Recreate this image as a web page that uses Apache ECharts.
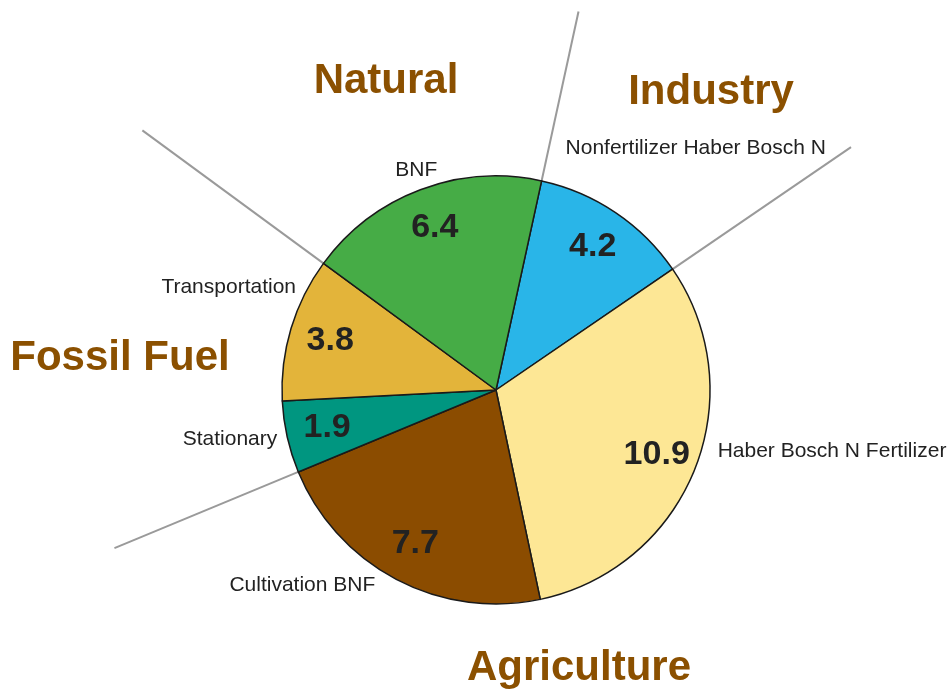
<!DOCTYPE html>
<html>
<head>
<meta charset="utf-8">
<script src="https://cdn.jsdelivr.net/npm/echarts@6/dist/echarts.min.js"></script>
<style>
  html, body { margin: 0; padding: 0; background: #fff; }
  #chart { width: 949px; height: 692px; }
</style>
</head>
<body>
<div id="chart"></div>
<script>
// slices, clockwise from the Natural / Industry boundary
var sources = ['Nonfertilizer Haber Bosch N', 'Haber Bosch N Fertilizer', 'Cultivation BNF', 'Stationary', 'Transportation', 'BNF']
var amounts = [4.2, 10.9, 7.7, 1.9, 3.8, 6.4]
var groups = ['Industry', 'Agriculture', 'Agriculture', 'Fossil Fuel', 'Fossil Fuel', 'Natural']
var groupNames = ['Natural', 'Industry', 'Fossil Fuel', 'Agriculture']
// how far each group divider reaches, in pie radii
var dividerReach = [1.81, 2.01, 1.93, 2.05]

var colors = ['#29b5e8', '#fde795', '#8b4c00', '#009680', '#e3b43a', '#46ac46']
var nameShift = [[-55, -64], [18, -18], [-16, 6], [-5, 2], [10, -41], [22, -20]]
var groupPos = [[386, 81], [711, 92], [120, 358], [579, 668]]

var center = [496, 390]
var R = 214
var startAngle = 77.7
var polarMax = 2.2

var total = amounts.reduce(function (a, b) { return a + b }, 0)

// divider lines where the group changes
var dividers = []
var acc = 0
for (var i = 0; i < amounts.length; i++) {
  var prev = groups[(i - 1 + groups.length) % groups.length]
  if (groups[i] !== prev) dividers.push(acc)
  acc += amounts[i]
}

var pieData = sources.map(function (s, i) {
  return { name: s, value: amounts[i], itemStyle: { color: colors[i] } }
})

var series = [
  {
    type: 'pie',
    center: center,
    radius: [0, R],
    startAngle: startAngle,
    clockwise: true,
    avoidLabelOverlap: false,
    silent: true,
    data: pieData,
    itemStyle: { borderColor: '#1a1a1a', borderWidth: 1.5 },
    label: {
      position: 'outside',
      formatter: '{b}',
      fontFamily: 'Liberation Sans',
      fontSize: 21,
      color: '#222',
      distanceToLabelLine: 5
    },
    labelLine: { show: false, length: 0, length2: 0 },
    labelLayout: function (p) {
      return { dx: nameShift[p.dataIndex][0], dy: nameShift[p.dataIndex][1] }
    }
  },
  {
    type: 'pie',
    center: center,
    radius: [R * 0.59, R],
    startAngle: startAngle,
    clockwise: true,
    silent: true,
    data: amounts.map(function (v, i) { return { name: sources[i], value: v } }),
    itemStyle: { color: 'rgba(0,0,0,0)' },
    label: {
      position: 'inside',
      formatter: '{c}',
      fontFamily: 'Liberation Sans',
      fontWeight: 'bold',
      fontSize: 34,
      color: '#222'
    },
    labelLine: { show: false }
  }
]

dividers.forEach(function (a, k) {
  series.push({
    type: 'line',
    coordinateSystem: 'polar',
    symbol: 'none',
    silent: true,
    z: 0,
    lineStyle: { color: '#9a9a9a', width: 2 },
    data: [[1, a], [dividerReach[k], a]]
  })
})

var chart = echarts.init(document.getElementById('chart'))
chart.setOption({
  backgroundColor: '#fff',
  animation: false,
  polar: { center: center, radius: R * polarMax },
  angleAxis: { type: 'value', min: 0, max: total, startAngle: startAngle, clockwise: true, show: false },
  radiusAxis: { type: 'value', min: 0, max: polarMax, show: false },
  graphic: groupNames.map(function (g, i) {
    return {
      type: 'text',
      x: groupPos[i][0],
      y: groupPos[i][1],
      style: {
        text: g,
        fontFamily: 'Liberation Sans',
        fontWeight: 'bold',
        fontSize: 42,
        fill: '#8b5000',
        align: 'center',
        verticalAlign: 'middle'
      }
    }
  }),
  series: series
})
</script>
</body>
</html>
